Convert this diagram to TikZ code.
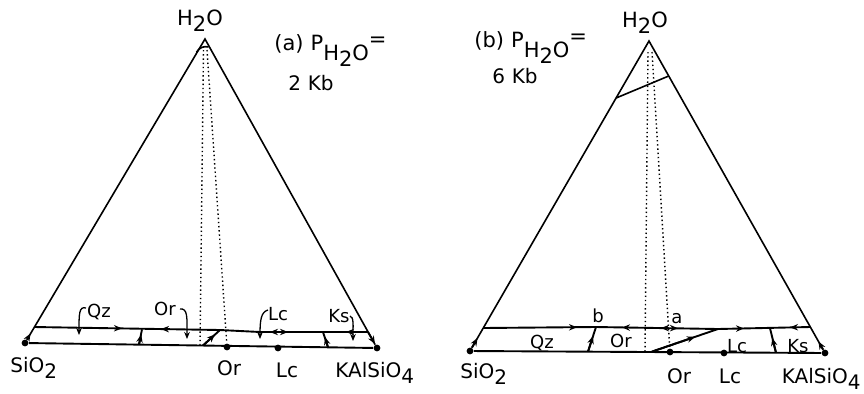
\documentclass[tikz,border=0pt]{standalone}
\usepackage{fontspec}
\setmainfont{DejaVu Sans}
\usetikzlibrary{arrows.meta}
\newcommand{\dn}[1]{\raisebox{-0.55ex}{#1}}

\begin{document}
\begin{tikzpicture}[x=0.5pt,y=-0.5pt,
  side/.style={line width=0.8pt},
  bound/.style={line width=0.95pt},
  arrtip/.style={line width=0.95pt,-{Stealth[length=4pt,width=3.2pt]}},
  curv/.style={line width=0.65pt,-{Stealth[length=3.5pt,width=2.8pt]}},
  tieline/.style={line width=0.7pt,dash pattern=on 0.7pt off 1.4pt},
  dot/.style={circle,fill,inner sep=0pt,minimum size=3.4pt},
  lbl/.style={font=\fontsize{10}{12}\selectfont,inner sep=0pt},
  fld/.style={font=\fontsize{9}{11}\selectfont,inner sep=0pt},
  ttl/.style={font=\fontsize{10.5}{12}\selectfont,inner sep=0pt}]
\useasboundingbox (0,0) rectangle (864,393);

% (a) 2 Kb
\coordinate (wa) at (205,39);
\node[dot] (sa) at (25,343) {};
\node[dot] (ka) at (377,348) {};
\node[dot] (ora) at (227,347) {};
\node[dot] (lca) at (278,348) {};
\coordinate (qa) at (34,327);
\coordinate (ea) at (368,332);
\draw[side] (sa) -- (wa) -- (ka);
\draw[bound] (sa) -- (ka);
\draw[bound] (qa) -- (220,330) -- (260,332) -- (ea);
\draw[side] (196.5,52) .. controls (200,47) and (204,46) .. (208.5,47);
\draw[tieline] (203.5,50) -- (200,345.5);
\draw[tieline] (207,50) -- (ora);
% reaction lines
\draw[bound] (139,344.6) -- (142,329.3);
\draw[bound] (203,345.5) -- (220,330);
\draw[bound] (328,347.3) -- (323,332);
\draw[arrtip] (sa) -- (30.5,333.5);
\draw[arrtip] (ea) -- (375,344);
\draw[arrtip] (139,344.6) -- (141.2,334.5);
\draw[arrtip] (203,345.5) -- (215,334.5);
\draw[arrtip] (328,347.3) -- (325,337);
\draw[arrtip] (117,328.3) -- (122,328.4);
\draw[arrtip] (166,329.1) -- (161,329.0);
\draw[arrtip] (275,332) -- (270,332);
\draw[arrtip] (283,332) -- (288,332);
\draw[arrtip] (351,332) -- (346,332);
% field labels
\node[fld,anchor=base] (qza) at (99,317) {Qz};
\node[fld,anchor=base] (orfa) at (165,315) {Or};
\node[fld,anchor=base] (lcfa) at (278,320) {Lc};
\node[fld,anchor=base] (ksa) at (339,322) {Ks};
\draw[curv] (86,308) .. controls (79,306) and (79,314) .. (79,335);
\draw[curv] (180,309) .. controls (188,308) and (187,318) .. (187,339);
\draw[curv] (268,310) .. controls (261,312) and (260,320) .. (260,339);
\draw[curv] (350,316) .. controls (354,317) and (353,325) .. (353,341);
% labels
\node[ttl,anchor=base] (ha) at (200,25) {H\dn{2}O};
\node[lbl,anchor=base west] (sila) at (10,372) {SiO\dn{2}};
\node[lbl,anchor=base] (orla) at (229,375) {Or};
\node[lbl,anchor=base] (lcla) at (287,377) {Lc};
\node[lbl,anchor=base west] (kla) at (335,377) {KAlSiO\dn{4}};
\node[ttl,anchor=base west] (tia) at (274,50) {(a)\,\,P\raisebox{-0.9ex}{H\dn{2}O}\raisebox{0.3ex}{=}};
\node[lbl] (pa) at (311,83) {2\,\,Kb};

% (b) 6 Kb
\coordinate (wb) at (649,41);
\node[dot] (sb) at (470,351) {};
\node[dot] (kb) at (825,353) {};
\node[dot] (orb) at (670,352) {};
\node[dot] (lcb) at (724,353) {};
\coordinate (qb) at (483.3,328);
\coordinate (eb) at (810.3,327);
\coordinate (bb) at (596,327);
\coordinate (jb) at (718,329);
\draw[side] (sb) -- (wb) -- (kb);
\draw[bound] (sb) -- (kb);
\draw[bound] (qb) -- (bb) -- (jb) -- (eb);
\draw[side] (616.1,98) -- (668.7,76);
\draw[tieline] (648,52) -- (645,352);
\draw[tieline] (652,52) -- (orb);
% reaction lines
\draw[bound] (588,351.7) -- (bb);
\draw[bound] (652,351.6) -- (jb);
\draw[bound] (776,352.7) -- (770,328.2);
\draw[arrtip] (sb) -- (477.5,338);
\draw[arrtip] (kb) -- (818.5,341.5);
\draw[arrtip] (588,351.7) -- (593,336);
\draw[arrtip] (652,351.6) -- (695,336.9);
\draw[arrtip] (776,352.7) -- (772.3,338);
\draw[arrtip] (572,327.3) -- (577,327.3);
\draw[arrtip] (627,327.5) -- (622,327.4);
\draw[arrtip] (666,328.1) -- (661,328.0);
\draw[arrtip] (673,328.2) -- (678,328.3);
\draw[arrtip] (739,328.5) -- (744,328.4);
\draw[arrtip] (795,327.3) -- (790,327.4);
% field labels
\node[fld,anchor=base] (bl) at (598,322) {b};
\node[fld,anchor=base] (al) at (677,323) {a};
\node[fld,anchor=base] (qzb) at (542,348) {Qz};
\node[fld,anchor=base] (orfb) at (621,347) {Or};
\node[fld,anchor=base] (lcfb) at (737,352) {Lc};
\node[fld,anchor=base] (ksb) at (798,352) {Ks};
% labels
\node[ttl,anchor=base] (hb) at (645,27) {H\dn{2}O};
\node[lbl,anchor=base west] (silb) at (460,378) {SiO\dn{2}};
\node[lbl,anchor=base] (orlb) at (679,383) {Or};
\node[lbl,anchor=base] (lclb) at (730,383) {Lc};
\node[lbl,anchor=base east] (klb) at (861,383) {KAlSiO\dn{4}};
\node[ttl,anchor=base west] (tib) at (474,47) {(b)\,\,P\raisebox{-0.9ex}{H\dn{2}O}\raisebox{0.3ex}{=}};
\node[lbl] (pb) at (515,76) {6\,\,Kb};
\end{tikzpicture}
\end{document}
